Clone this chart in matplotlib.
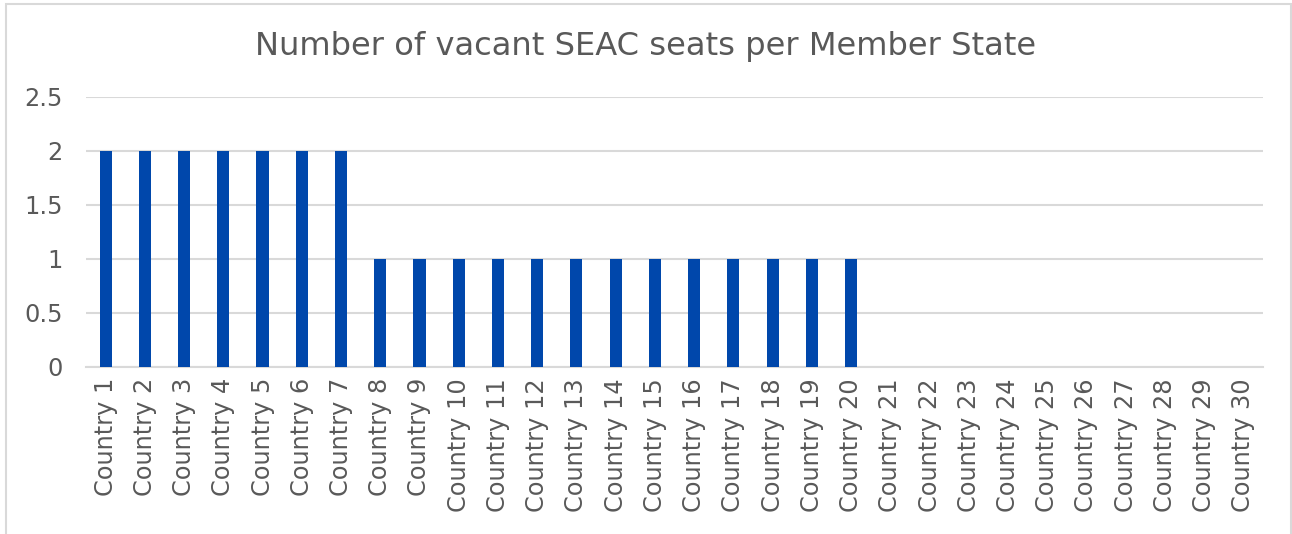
import numpy as np
import matplotlib
matplotlib.use("Agg")
import matplotlib.pyplot as plt
from matplotlib.patches import Rectangle

countries = ["Country %d" % i for i in range(1, 31)]
vacant_seats = [2, 2, 2, 2, 2, 2, 2,
                1, 1, 1, 1, 1, 1, 1, 1, 1, 1, 1, 1, 1,
                0, 0, 0, 0, 0, 0, 0, 0, 0, 0]
y_ticks = [0, 0.5, 1, 1.5, 2, 2.5]
y_labels = ["0", "0.5", "1", "1.5", "2", "2.5"]

text_color = "#595959"
grid_color = "#d9d9d9"
bar_color = "#0047ab"

plt.rcParams["font.family"] = ["DejaVu Sans"]

W, H = 1292, 534
fig = plt.figure(figsize=(W / 100, H / 100), dpi=100)

# outer chart frame
fig.patches.append(Rectangle((6 / W, -0.05), (1291 - 6) / W, 1.05 - 4 / H,
                             transform=fig.transFigure, fill=False,
                             edgecolor=grid_color, linewidth=1.5))

ax = fig.add_axes([86 / W, 1 - 367 / H, (1263 - 86) / W, (367 - 96.5) / H])
x = np.arange(len(countries))
ax.bar(x, vacant_seats, width=0.31, color=bar_color, zorder=3)

ax.set_xlim(-0.5, len(countries) - 0.5)
ax.set_ylim(0, 2.5)
ax.set_yticks(y_ticks)
ax.set_yticklabels(y_labels)
ax.set_xticks(x)
ax.set_xticklabels(countries, rotation=90)
ax.tick_params(axis="both", length=0, labelcolor=text_color, labelsize=17.3)
ax.tick_params(axis="y", pad=17)
ax.tick_params(axis="x", pad=8)

ax.grid(axis="y", color=grid_color, linewidth=1.5, zorder=0)
for s in ["top", "right", "left"]:
    ax.spines[s].set_visible(False)
ax.spines["bottom"].set_color(grid_color)
ax.spines["bottom"].set_linewidth(1.5)

fig.text(0.5, 1 - 46 / H, "Number of vacant SEAC seats per Member State",
         ha="center", va="center", fontsize=23.1, color=text_color)

fig.savefig("out.png", dpi=100)
